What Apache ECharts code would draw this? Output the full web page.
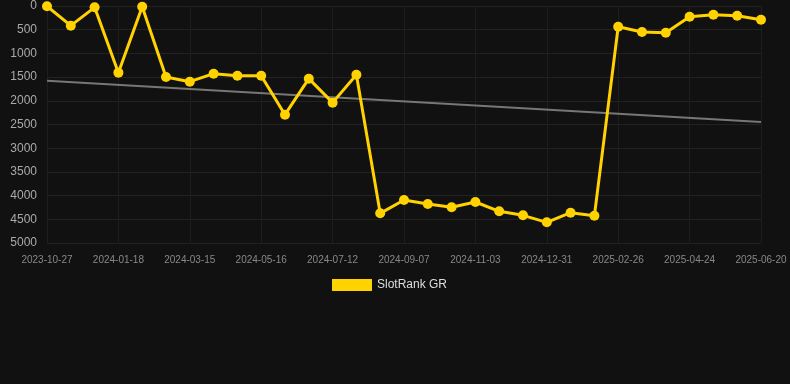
<!DOCTYPE html>
<html>
<head>
<meta charset="utf-8">
<script src="https://cdn.jsdelivr.net/npm/echarts@6/dist/echarts.min.js"></script>
<style>
  html, body { margin: 0; padding: 0; background: #111111; }
  #chart { width: 790px; height: 384px; }
</style>
</head>
<body>
<div id="chart"></div>
<script>
const dates = [
  '2023-10-27', '2023-11-24', '2023-12-22', '2024-01-18', '2024-02-06', '2024-02-25',
  '2024-03-15', '2024-04-05', '2024-04-25', '2024-05-16', '2024-06-04', '2024-06-23',
  '2024-07-12', '2024-07-31', '2024-08-19', '2024-09-07', '2024-09-26', '2024-10-15',
  '2024-11-03', '2024-11-22', '2024-12-12', '2024-12-31', '2025-01-19', '2025-02-07',
  '2025-02-26', '2025-03-17', '2025-04-05', '2025-04-24', '2025-05-13', '2025-06-01',
  '2025-06-20'
];
const rankGR = [
  5, 415, 28, 1406, 14, 1498, 1597, 1428, 1470, 1470, 2293, 1533,
  2039, 1449, 4374, 4093, 4177, 4247, 4135, 4332, 4416, 4564, 4360, 4424,
  436, 549, 563, 225, 183, 204, 289
];
// trend line end points (first and last date)
const trendStart = 1575;
const trendEnd = 2447;
const yTicks = [0, 500, 1000, 1500, 2000, 2500, 3000, 3500, 4000, 4500, 5000];

const chart = echarts.init(document.getElementById('chart'), null, { renderer: 'canvas' });

const option = {
  backgroundColor: '#111111',
  animation: false,
  grid: { left: 47, right: 29, top: 6, bottom: 141 },
  legend: {
    top: 274,
    left: 327,
    itemWidth: 40,
    itemHeight: 12,
    icon: 'rect',
    textStyle: { color: '#dddddd', fontSize: 12 },
    data: ['SlotRank GR']
  },
  xAxis: {
    type: 'category',
    data: dates,
    boundaryGap: false,
    axisLine: { show: false },
    axisTick: { show: false },
    axisLabel: { color: '#888888', fontSize: 10, interval: 2, margin: 12 },
    splitLine: { show: true, interval: 2, lineStyle: { color: '#1e1e1e' } }
  },
  yAxis: {
    type: 'value',
    inverse: true,
    min: yTicks[0],
    max: yTicks[yTicks.length - 1],
    interval: 500,
    axisLine: { show: false },
    axisTick: { show: false },
    axisLabel: { color: '#aaaaaa', fontSize: 12, margin: 10, formatter: v => String(v) },
    splitLine: { lineStyle: { color: '#222222' } }
  },
  series: [
    {
      name: 'trend',
      type: 'line',
      data: dates.map((d, i) => i === 0 ? trendStart : (i === dates.length - 1 ? trendEnd : null)),
      connectNulls: true,
      symbol: 'none',
      lineStyle: { color: '#777777', width: 2 },
      silent: true,
      z: 1
    },
    {
      name: 'SlotRank GR',
      type: 'line',
      data: rankGR,
      symbol: 'circle',
      symbolSize: 10,
      itemStyle: { color: '#ffd200' },
      lineStyle: { color: '#ffd200', width: 3 },
      z: 2
    }
  ]
};

chart.setOption(option);
</script>
</body>
</html>
